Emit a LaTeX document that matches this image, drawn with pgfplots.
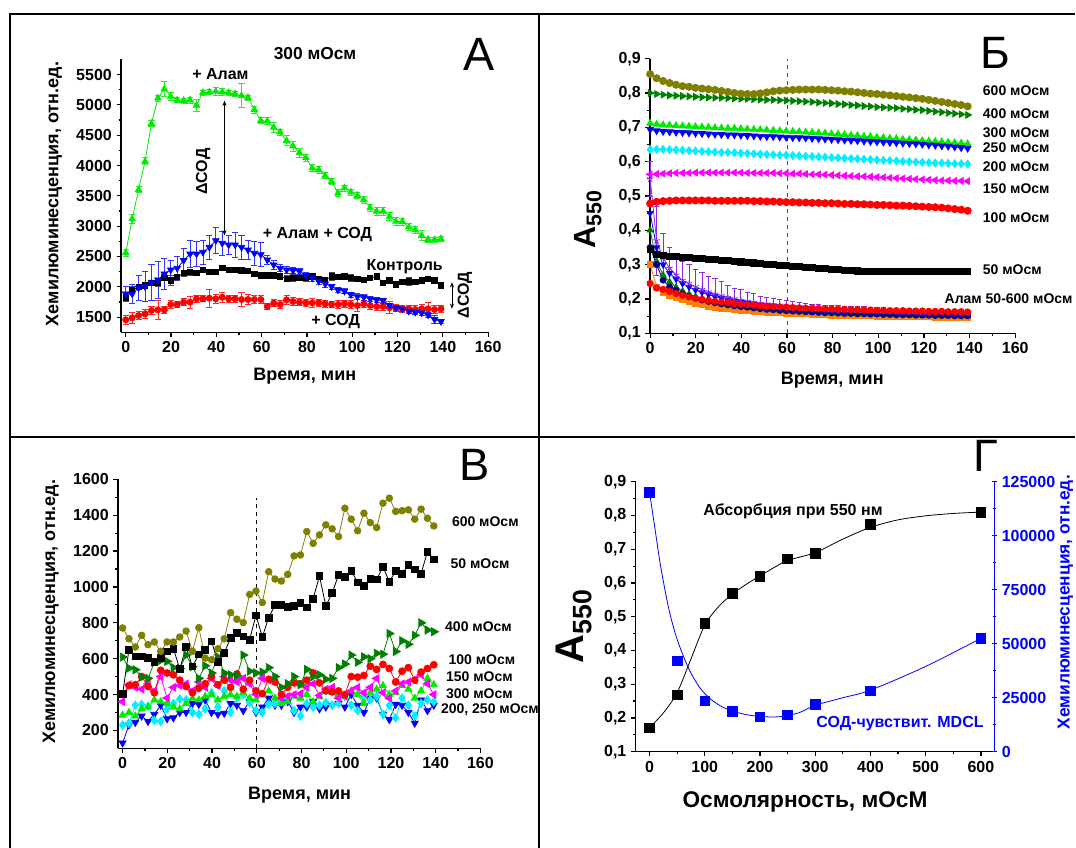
\documentclass[border=0pt]{standalone}
\usepackage{fontspec}
\setmainfont{Liberation Sans}
\usepackage{pgfplots}
\pgfplotsset{compat=1.18}
\usepackage{pgfplotstable}
\usetikzlibrary{arrows.meta}

\newcommand\fsz[1]{\fontsize{#1}{#1}\selectfont}

\definecolor{cgreen}{RGB}{0,235,0}
\definecolor{cdkgreen}{RGB}{0,128,0}
\definecolor{colive}{RGB}{128,128,0}
\definecolor{ccyan}{RGB}{0,240,255}
\definecolor{cmag}{RGB}{255,0,255}
\definecolor{corange}{RGB}{255,128,0}
\definecolor{cnavy}{RGB}{0,0,128}
\definecolor{cpurple}{RGB}{140,40,230}

% panel A: t, +Alam, +Alam+SOD, control, +SOD (with errors)
\pgfplotstableread{
t g ge b be k ke r re
0 2560 60 1884 120 1813 60 1456 80
2.84 3120 80 1884 150 1950 50 1489 90
5.68 3600 50 1983 200 1994 40 1527 60
8.52 4070 60 2005 250 2022 40 1555 70
11.36 4690 50 2077 300 2060 40 1610 60
14.2 5110 50 2115 300 2060 60 1621 150
17.04 5260 120 2214 250 2148 50 1621 60
19.88 5140 60 2280 150 2104 80 1709 60
22.72 5080 40 2307 200 2159 40 1709 50
25.56 5070 40 2434 200 2225 50 1747 60
28.4 5080 50 2543 220 2241 50 1747 100
31.24 4990 100 2543 200 2225 40 1802 60
34.08 5200 40 2571 200 2280 40 1802 50
36.92 5210 40 2653 200 2241 40 1813 150
39.76 5220 60 2763 220 2241 40 1802 80
42.6 5210 60 2719 200 2313 40 1829 80
45.44 5200 40 2692 150 2280 30 1802 60
48.28 5180 40 2692 200 2280 30 1802 60
51.12 5150 200 2653 200 2269 30 1791 120
53.96 5120 40 2609 150 2258 30 1791 80
56.8 4920 60 2554 200 2214 40 1791 60
59.64 4740 50 2532 200 2186 50 1791 60
62.48 4730 60 2445 80 2186 40 1676 50
65.32 4630 80 2362 80 2186 40 1731 60
68.16 4550 50 2307 60 2170 40 1709 60
71 4410 80 2280 60 2132 50 1786 80
73.84 4320 80 2269 50 2143 60 1758 60
76.68 4210 80 2258 50 2143 40 1747 60
79.52 4130 60 2187 50 2143 50 1736 60
82.36 3955 60 2148 60 2170 40 1736 80
85.2 3930 60 2093 60 2132 40 1736 60
88.04 3830 50 2049 60 2115 40 1720 60
90.88 3735 50 2005 40 2170 60 1709 50
93.72 3545 60 1950 40 2159 40 1709 60
96.56 3630 50 1928 40 2170 40 1720 60
99.4 3560 50 1873 40 2148 60 1709 60
102.24 3505 50 1840 50 2132 40 1692 100
105.08 3435 60 1829 50 2115 40 1720 60
107.92 3300 60 1802 40 2148 40 1692 60
110.76 3245 60 1785 40 2170 40 1676 60
113.6 3245 60 1775 40 2060 40 1676 60
116.44 3160 60 1692 40 2104 40 1654 100
119.28 3080 60 1654 40 2038 40 1654 60
122.12 3075 60 1637 40 2077 40 1637 60
124.96 2985 60 1599 40 2088 60 1637 60
127.8 2940 60 1582 40 2077 40 1626 60
130.64 2845 80 1571 40 2104 30 1637 80
133.48 2780 40 1538 40 2132 30 1637 100
136.32 2775 40 1462 60 2104 30 1626 60
139.16 2790 40 1429 40 2022 30 1637 60
}\tA

% panel Б: A550 vs time
\pgfplotstableread{
t s600 s400 s300 s250 s200 s150 s100 s50 ared aor anavy agrn apur apurE ablue
0 0.855 0.800 0.712 0.694 0.635 0.563 0.478 0.345 0.245 0.300 0.350 0.400 0.550 0.05 0.450
2.84 0.843 0.797 0.709 0.690 0.636 0.564 0.483 0.330 0.232 0.235 0.300 0.310 0.370 0.10 0.350
5.68 0.835 0.795 0.707 0.688 0.636 0.565 0.485 0.327 0.228 0.220 0.255 0.270 0.320 0.07 0.300
8.52 0.829 0.793 0.706 0.687 0.635 0.566 0.486 0.325 0.222 0.210 0.235 0.250 0.290 0.06 0.275
11.36 0.824 0.792 0.705 0.686 0.634 0.567 0.487 0.323 0.216 0.203 0.225 0.235 0.270 0.06 0.258
14.2 0.820 0.791 0.704 0.685 0.633 0.567 0.487 0.322 0.211 0.197 0.215 0.223 0.255 0.055 0.245
17.04 0.818 0.790 0.703 0.684 0.632 0.567 0.487 0.320 0.206 0.192 0.208 0.214 0.245 0.055 0.235
19.88 0.815 0.789 0.702 0.683 0.631 0.568 0.487 0.319 0.202 0.187 0.202 0.207 0.236 0.05 0.226
22.72 0.813 0.788 0.701 0.682 0.630 0.568 0.487 0.318 0.199 0.183 0.197 0.201 0.228 0.05 0.219
25.56 0.811 0.787 0.700 0.681 0.629 0.568 0.487 0.316 0.196 0.179 0.193 0.196 0.221 0.045 0.213
28.4 0.809 0.786 0.699 0.680 0.628 0.568 0.486 0.315 0.193 0.176 0.189 0.192 0.215 0.045 0.207
31.24 0.806 0.786 0.698 0.679 0.627 0.568 0.486 0.313 0.191 0.173 0.186 0.188 0.210 0.04 0.202
34.08 0.803 0.785 0.697 0.678 0.627 0.568 0.486 0.312 0.189 0.171 0.183 0.185 0.205 0.035 0.198
36.92 0.800 0.784 0.697 0.678 0.626 0.568 0.486 0.310 0.187 0.169 0.180 0.182 0.201 0.03 0.194
39.76 0.798 0.783 0.696 0.677 0.625 0.568 0.486 0.308 0.185 0.167 0.178 0.179 0.197 0.03 0.191
42.6 0.797 0.783 0.695 0.676 0.624 0.567 0.486 0.307 0.183 0.165 0.176 0.177 0.194 0.025 0.188
45.44 0.797 0.782 0.694 0.675 0.623 0.567 0.485 0.305 0.182 0.164 0.174 0.175 0.191 0.025 0.185
48.28 0.799 0.781 0.693 0.674 0.622 0.567 0.485 0.304 0.180 0.162 0.172 0.173 0.188 0.02 0.183
51.12 0.802 0.780 0.692 0.673 0.621 0.567 0.484 0.302 0.179 0.161 0.170 0.171 0.186 0.02 0.181
53.96 0.805 0.780 0.691 0.673 0.620 0.567 0.484 0.301 0.178 0.160 0.169 0.170 0.184 0.018 0.179
56.8 0.807 0.779 0.690 0.672 0.619 0.566 0.483 0.299 0.177 0.159 0.167 0.168 0.182 0.016 0.177
59.64 0.808 0.778 0.689 0.671 0.619 0.566 0.482 0.298 0.176 0.158 0.166 0.167 0.180 0.015 0.175
62.48 0.809 0.777 0.688 0.670 0.618 0.565 0.482 0.296 0.175 0.157 0.165 0.166 0.178 0.014 0.174
65.32 0.810 0.776 0.687 0.670 0.617 0.565 0.481 0.294 0.174 0.156 0.164 0.165 0.177 0.012 0.172
68.16 0.810 0.775 0.686 0.669 0.616 0.564 0.481 0.292 0.173 0.156 0.163 0.164 0.175 0.012 0.171
71 0.810 0.774 0.685 0.668 0.615 0.563 0.480 0.291 0.173 0.155 0.162 0.163 0.174 0.01 0.170
73.84 0.810 0.772 0.684 0.667 0.614 0.563 0.480 0.289 0.172 0.154 0.161 0.162 0.173 0.01 0.169
76.68 0.809 0.771 0.683 0.666 0.613 0.562 0.479 0.288 0.171 0.154 0.160 0.161 0.172 0.01 0.168
79.52 0.808 0.770 0.681 0.665 0.612 0.561 0.479 0.287 0.171 0.153 0.160 0.160 0.171 0.01 0.167
82.36 0.807 0.768 0.680 0.664 0.611 0.560 0.478 0.286 0.170 0.153 0.159 0.160 0.170 0.01 0.166
85.2 0.805 0.767 0.679 0.663 0.610 0.559 0.477 0.284 0.170 0.152 0.158 0.159 0.169 0.01 0.165
88.04 0.804 0.765 0.677 0.662 0.609 0.558 0.477 0.283 0.169 0.152 0.158 0.158 0.168 0.01 0.165
90.88 0.802 0.764 0.676 0.661 0.608 0.557 0.476 0.282 0.169 0.151 0.157 0.158 0.167 0.01 0.164
93.72 0.800 0.762 0.674 0.660 0.607 0.557 0.476 0.281 0.168 0.151 0.157 0.157 0.167 0.01 0.163
96.56 0.798 0.761 0.673 0.659 0.606 0.556 0.475 0.280 0.168 0.151 0.156 0.157 0.166 0.01 0.163
99.4 0.797 0.759 0.671 0.658 0.605 0.555 0.474 0.280 0.167 0.150 0.156 0.156 0.165 0.01 0.162
102.24 0.795 0.758 0.670 0.657 0.604 0.554 0.474 0.280 0.167 0.150 0.155 0.156 0.165 0.01 0.162
105.08 0.793 0.757 0.668 0.656 0.603 0.553 0.473 0.280 0.166 0.150 0.155 0.155 0.164 0.01 0.161
107.92 0.791 0.756 0.667 0.655 0.602 0.552 0.472 0.280 0.166 0.149 0.154 0.155 0.164 0.01 0.161
110.76 0.789 0.754 0.665 0.654 0.601 0.551 0.472 0.280 0.166 0.149 0.154 0.154 0.163 0.01 0.160
113.6 0.787 0.753 0.664 0.653 0.600 0.550 0.471 0.280 0.165 0.149 0.154 0.154 0.163 0.01 0.160
116.44 0.785 0.751 0.663 0.652 0.599 0.549 0.470 0.280 0.165 0.148 0.153 0.154 0.162 0.01 0.159
119.28 0.783 0.750 0.661 0.651 0.598 0.548 0.469 0.280 0.165 0.148 0.153 0.153 0.162 0.01 0.159
122.12 0.780 0.748 0.660 0.649 0.597 0.547 0.468 0.280 0.164 0.148 0.153 0.153 0.161 0.01 0.159
124.96 0.777 0.746 0.659 0.648 0.596 0.546 0.467 0.280 0.164 0.147 0.152 0.153 0.161 0.01 0.158
127.8 0.774 0.744 0.658 0.646 0.596 0.545 0.466 0.280 0.164 0.147 0.152 0.152 0.160 0.01 0.158
130.64 0.771 0.742 0.656 0.645 0.595 0.545 0.464 0.280 0.163 0.147 0.152 0.152 0.160 0.01 0.158
133.48 0.768 0.740 0.655 0.643 0.594 0.544 0.462 0.280 0.163 0.146 0.151 0.152 0.160 0.01 0.157
136.32 0.765 0.738 0.654 0.641 0.594 0.544 0.460 0.280 0.163 0.146 0.151 0.151 0.159 0.01 0.157
139.16 0.761 0.736 0.652 0.639 0.593 0.543 0.457 0.281 0.162 0.145 0.151 0.151 0.159 0.01 0.157
}\tB

% panel В: chemiluminescence vs time
\pgfplotstableread{
t s600 s50 s400 s100 s150 s300 s200 s250
0 771 403 609 400 360 285 230 130
2.84 711 650 547 450 455 300 240 230
5.68 665 613 538 455 440 280 340 245
8.52 730 613 497 500 430 320 345 280
11.36 678 603 490 445 460 330 335 250
14.2 693 581 580 410 420 370 255 290
17.04 641 605 590 535 500 360 250 340
19.88 693 641 585 520 380 350 320 265
22.72 693 655 550 510 440 330 350 270
25.56 721 543 545 480 450 320 375 300
28.4 754 665 620 445 460 350 370 300
31.24 641 556 555 410 420 380 300 350
34.08 773 624 490 435 470 370 290 345
36.92 603 650 560 460 440 390 320 370
39.76 594 697 520 500 490 400 410 300
42.6 655 581 610 455 450 370 330 290
45.44 711 631 520 480 500 390 420 295
48.28 857 715 510 440 480 400 300 350
51.12 820 743 505 515 470 390 380 340
53.96 801 725 620 430 490 410 400 310
56.8 958 706 530 480 460 380 355 360
59.64 977 842 520 420 400 370 310 300
62.48 913 721 525 405 490 400 300 330
65.32 1085 829 550 485 480 420 345 380
68.16 1044 898 500 470 490 380 350 340
71 1033 898 440 400 380 350 360 340
73.84 1070 889 460 440 390 360 380 360
76.68 1173 893 500 465 400 390 310 300
79.52 1178 911 455 460 405 380 280 330
82.36 1309 885 540 480 440 400 350 330
85.2 1243 935 500 520 460 360 330 360
88.04 1290 1060 510 465 395 390 340 320
90.88 1346 894 485 420 430 420 355 330
93.72 1324 967 490 415 440 410 340 340
96.56 1281 1066 550 420 380 400 350 350
99.4 1439 1057 570 400 390 390 390 330
102.24 1378 1090 620 500 420 420 340 400
105.08 1313 1025 580 497 440 400 310 340
107.92 1411 1006 610 506 410 350 390 300
110.76 1359 1044 600 558 440 410 370 380
113.6 1331 1042 630 540 490 430 390 380
116.44 1467 1113 625 568 410 450 290 290
119.28 1495 1029 740 545 380 400 340 260
122.12 1421 1089 640 470 420 410 270 345
124.96 1425 1072 700 530 460 450 380 340
127.8 1430 1122 680 550 470 430 340 300
130.64 1378 1098 730 480 480 380 280 240
133.48 1434 1074 800 525 510 420 350 370
136.32 1383 1197 760 545 460 490 370 310
139.16 1340 1154 750 566 400 455 360 340
}\tV

\pgfplotsset{
  noarrows/.style={
    every inner x axis line/.append style={-},
    every inner y axis line/.append style={-},
    every outer x axis line/.append style={-},
    every outer y axis line/.append style={-},
  },
  orig/.style={
    scale only axis, anchor=north west, clip=false,
    axis x line=bottom, axis y line=left,
    axis line style={line width=1.1pt},
    noarrows,
    tick align=outside,
    major tick length=3.5pt, minor tick length=2pt,
    every tick/.style={black, line width=0.9pt},
    tick label style={font=\bfseries\fsz{12}},
    /pgf/number format/assume math mode=true,
    /pgf/number format/1000 sep={},
    every axis plot/.append style={line width=0.6pt},
  },
  comma1/.style={yticklabel style={/pgf/number format/.cd, fixed, fixed zerofill, precision=1, use comma}},
}

\begin{document}
\begin{tikzpicture}
\path[use as bounding box] (0,0) rectangle (807pt,-636pt);
% frame
\draw[line width=1.6pt] (7.2pt,-636pt) -- (7.2pt,-10.5pt) -- (806.5pt,-10.5pt);
\draw[line width=1.6pt] (404.5pt,-10.5pt) -- (404.5pt,-636pt);
\draw[line width=1.6pt] (7.2pt,-327.5pt) -- (806.5pt,-327.5pt);

% ---------------- panel A
\begin{axis}[orig, at={(90.9pt,-44.5pt)}, width=275.25pt, height=204.75pt,
  xmin=-2, xmax=160, ymin=1250, ymax=5750,
  xtick={0,20,...,160}, minor x tick num=1,
  ytick={1500,2000,...,5500}, minor y tick num=1]
\addplot[red, mark=*, mark size=2.3pt,
  error bars/.cd, y dir=both, y explicit,
  error bar style={red!85!white, line width=0.6pt},
  error mark options={rotate=90, mark size=2.3pt, line width=0.6pt, red!85!white}]
  table[x=t, y=r, y error=re]{\tA};
\addplot[black, mark=square*, mark size=2pt,
  error bars/.cd, y dir=both, y explicit,
  error bar style={black!70, line width=0.6pt},
  error mark options={rotate=90, mark size=2.3pt, line width=0.6pt, black!70}]
  table[x=t, y=k, y error=ke]{\tA};
\addplot[blue, mark=triangle*, mark size=2.8pt, mark options={rotate=180},
  error bars/.cd, y dir=both, y explicit,
  error bar style={blue!80!white, line width=0.6pt},
  error mark options={rotate=90, mark size=2.3pt, line width=0.6pt, blue!80!white}]
  table[x=t, y=b, y error=be]{\tA};
\addplot[cgreen, mark=triangle*, mark size=2.8pt,
  error bars/.cd, y dir=both, y explicit,
  error bar style={cgreen!85!white, line width=0.6pt},
  error mark options={rotate=90, mark size=2.3pt, line width=0.6pt, cgreen!85!white}]
  table[x=t, y=g, y error=ge]{\tA};
\draw[{Stealth[length=4pt]}-{Stealth[length=4pt]}, line width=0.6pt]
  (axis cs:43.6,5070) -- (axis cs:43.6,2846);
\draw[{Stealth[length=4pt]}-{Stealth[length=4pt]}, line width=0.6pt]
  (axis cs:144,2077) -- (axis cs:144,1637);
\end{axis}
\node[font=\bfseries\fsz{13.5}, rotate=90] at (40.5pt,-145.5pt) {Хемилюминесценция, отн.ед.};
\node[font=\bfseries\fsz{13.5}] at (228.6pt,-282.5pt) {Время, мин};
\node[font=\bfseries\fsz{13}] at (236.3pt,-40pt) {300 мОсм};
\node[font=\bfseries\fsz{12}] at (165.3pt,-55.5pt) {+ Алам};
\node[font=\bfseries\fsz{12}, rotate=90] at (152.4pt,-128.75pt) {ΔСОД};
\node[font=\bfseries\fsz{12}] at (238.1pt,-176.25pt) {+ Алам + СОД};
\node[font=\bfseries\fsz{12}] at (303.5pt,-200pt) {Контроль};
\node[font=\bfseries\fsz{12}] at (251.8pt,-241.25pt) {+ СОД};
\node[font=\bfseries\fsz{12}, rotate=90] at (348.7pt,-221.25pt) {ΔСОД};
\node[font=\fsz{35}] at (359pt,-40.5pt) {А};

% ---------------- panel Б
\begin{axis}[orig, comma1, at={(487.6pt,-44pt)}, width=273.8pt, height=206pt,
  xmin=0, xmax=160, ymin=0.1, ymax=0.9,
  xtick={0,20,...,160}, minor x tick num=1,
  ytick={0.1,0.2,0.3,0.4,0.5,0.6,0.7,0.8,0.9}, minor y tick num=1]
\addplot[black!70, dashed, line width=0.7pt] coordinates {(60,0.1) (60,0.9)};
\addplot[corange, mark=square*, mark size=2.1pt] table[x=t, y=aor]{\tB};
\addplot[cdkgreen, mark=triangle*, mark size=2.6pt] table[x=t, y=agrn]{\tB};
\addplot[cnavy, mark=*, mark size=2.3pt] table[x=t, y=anavy]{\tB};
\addplot[blue, mark=triangle*, mark size=2.6pt, mark options={rotate=180}] table[x=t, y=ablue]{\tB};
\addplot[cpurple, mark=star, mark size=2.6pt,
  error bars/.cd, y dir=both, y explicit,
  error bar style={cpurple, line width=0.6pt},
  error mark options={rotate=90, mark size=2pt, line width=0.6pt, cpurple}]
  table[x=t, y=apur, y error=apurE]{\tB};
\addplot[red, mark=*, mark size=2.4pt] table[x=t, y=ared]{\tB};
\addplot[black, mark=square*, mark size=2.3pt] table[x=t, y=s50]{\tB};
\addplot[red, mark=*, mark size=2.7pt] table[x=t, y=s100]{\tB};
\addplot[cmag, mark=triangle*, mark size=2.9pt, mark options={rotate=90}] table[x=t, y=s150]{\tB};
\addplot[ccyan, mark=diamond*, mark size=3pt] table[x=t, y=s200]{\tB};
\addplot[cgreen, mark=triangle*, mark size=2.9pt] table[x=t, y=s300]{\tB};
\addplot[blue, mark=triangle*, mark size=2.9pt, mark options={rotate=180}] table[x=t, y=s250]{\tB};
\addplot[cdkgreen, mark=triangle*, mark size=2.9pt, mark options={rotate=-90}] table[x=t, y=s400]{\tB};
\addplot[colive, mark=*, mark size=2.7pt] table[x=t, y=s600]{\tB};
\end{axis}
\node[font=\bfseries\fsz{23}, rotate=90] at (441pt,-165pt) {A\raisebox{-0.35ex}{\fsz{16}550}};
\node[font=\bfseries\fsz{13.5}] at (624.2pt,-285pt) {Время, мин};
\node[font=\fsz{34}] at (746.6pt,-39.4pt) {Б};
\begin{scope}[every node/.style={font=\bfseries\fsz{10.5}, anchor=west, inner sep=0pt}]
\node at (737pt,-68.25pt) {600 мОсм};
\node at (737pt,-85pt) {400 мОсм};
\node at (737pt,-99.2pt) {300 мОсм};
\node at (737pt,-110.5pt) {250 мОсм};
\node at (737pt,-125pt) {200 мОсм};
\node at (737pt,-141.2pt) {150 мОсм};
\node at (737pt,-163pt) {100 мОсм};
\node at (737pt,-202.5pt) {50 мОсм};
\node at (708.3pt,-224.25pt) {Алам 50-600 мОсм};
\end{scope}

% ---------------- panel В
\begin{axis}[orig, at={(88.6pt,-359.5pt)}, width=271.7pt, height=201.75pt,
  xmin=-2, xmax=160, ymin=100, ymax=1600,
  xtick={0,20,...,160}, minor x tick num=1,
  ytick={200,400,...,1600}, minor y tick num=1]
\addplot[black, dashed, line width=0.7pt] coordinates {(60,100) (60,1497)};
\addplot[blue, mark=triangle*, mark size=3pt, mark options={rotate=180}] table[x=t, y=s250]{\tV};
\addplot[ccyan, mark=diamond*, mark size=3.2pt] table[x=t, y=s200]{\tV};
\addplot[cgreen, mark=triangle*, mark size=3pt] table[x=t, y=s300]{\tV};
\addplot[cmag, mark=triangle*, mark size=3.3pt, mark options={rotate=90}] table[x=t, y=s150]{\tV};
\addplot[red, mark=*, mark size=2.6pt] table[x=t, y=s100]{\tV};
\addplot[cdkgreen, mark=triangle*, mark size=3.5pt, mark options={rotate=-90}] table[x=t, y=s400]{\tV};
\addplot[black, mark=square*, mark size=2.5pt] table[x=t, y=s50]{\tV};
\addplot[colive, mark=*, mark size=2.5pt] table[x=t, y=s600]{\tV};
\end{axis}
\node[font=\bfseries\fsz{13.5}, rotate=90] at (38pt,-458.75pt) {Хемилюминесценция, отн.ед.};
\node[font=\bfseries\fsz{13.5}] at (224.7pt,-596.25pt) {Время, мин};
\node[font=\fsz{34}] at (355.7pt,-348.75pt) {В};
\begin{scope}[every node/.style={font=\bfseries\fsz{10.5}, anchor=west, inner sep=0pt}]
\node at (338.8pt,-391.25pt) {600 мОсм};
\node at (337.8pt,-422.5pt) {50 мОсм};
\node at (333.7pt,-470pt) {400 мОсм};
\node at (336.2pt,-494.5pt) {100 мОсм};
\node at (334.4pt,-507.5pt) {150 мОсм};
\node at (334.4pt,-520pt) {300 мОсм};
\node at (330.6pt,-532.5pt) {200, 250 мОсм};
\end{scope}

% ---------------- panel Г
\begin{axis}[orig, comma1, at={(476.8pt,-361.3pt)}, width=269.25pt, height=202.5pt,
  xmin=-25, xmax=625, ymin=0.1, ymax=0.9,
  xtick={0,100,...,600}, minor x tick num=1,
  ytick={0.1,0.2,0.3,0.4,0.5,0.6,0.7,0.8,0.9}, minor y tick num=1]
\addplot[black, smooth, tension=0.5, line width=0.6pt] coordinates {
(0,0.171) (25,0.215) (50,0.275) (75,0.375) (100,0.475) (125,0.53) (150,0.567)
(175,0.596) (200,0.621) (230,0.650) (250,0.667) (300,0.690) (350,0.730)
(400,0.765) (450,0.787) (500,0.799) (550,0.806) (600,0.810)};
\addplot[black, only marks, mark=square*, mark size=3.6pt] coordinates {
(0,0.171) (50,0.268) (100,0.481) (150,0.569) (200,0.619) (250,0.671) (300,0.688) (400,0.774) (600,0.809)};
\end{axis}
\begin{axis}[orig, at={(476.8pt,-361.3pt)}, width=269.25pt, height=202.5pt,
  axis x line=none, axis y line=right, noarrows,
  xmin=-25, xmax=625, ymin=0, ymax=125000,
  y axis line style={blue, line width=1.1pt, -},
  every tick/.style={blue, line width=0.9pt},
  ytick={0,25000,...,125000}, minor y tick num=1,
  scaled y ticks=false,
  yticklabel style={blue, /pgf/number format/.cd, fixed, precision=0, 1000 sep={}}]
\addplot[blue, smooth, tension=0.5, line width=0.6pt] coordinates {
(0,120000) (10,103000) (20,86000) (35,66000) (50,52000) (70,39000) (90,30000)
(110,24500) (130,21000) (150,18800) (175,17200) (200,16300) (235,16200)
(270,18000) (300,21500) (350,25000) (400,28500) (500,39500) (600,52500)};
\addplot[blue, only marks, mark=square*, mark size=3.6pt] coordinates {
(0,120000) (50,42000) (100,23600) (150,18800) (200,16200) (250,17000) (300,21900) (400,28200) (600,52500)};
\end{axis}
\node[font=\bfseries\fsz{30}, rotate=90] at (430.5pt,-470pt) {A\raisebox{-0.35ex}{\fsz{20}550}};
\node[font=\bfseries\fsz{17}] at (603.75pt,-601.25pt) {Осмолярность, мОсМ};
\node[font=\bfseries\fsz{13}, rotate=90, text=blue] at (799pt,-451.75pt) {Хемилюминесценция, отн.ед.};
\node[font=\fsz{34}] at (739.6pt,-342.2pt) {Г};
\node[font=\bfseries\fsz{12}] at (594.75pt,-383.25pt) {Абсорбция при 550 нм};
\node[font=\bfseries\fsz{12}, text=blue] at (675pt,-542.5pt) {СОД-чувствит. MDCL};
\end{tikzpicture}
\end{document}
